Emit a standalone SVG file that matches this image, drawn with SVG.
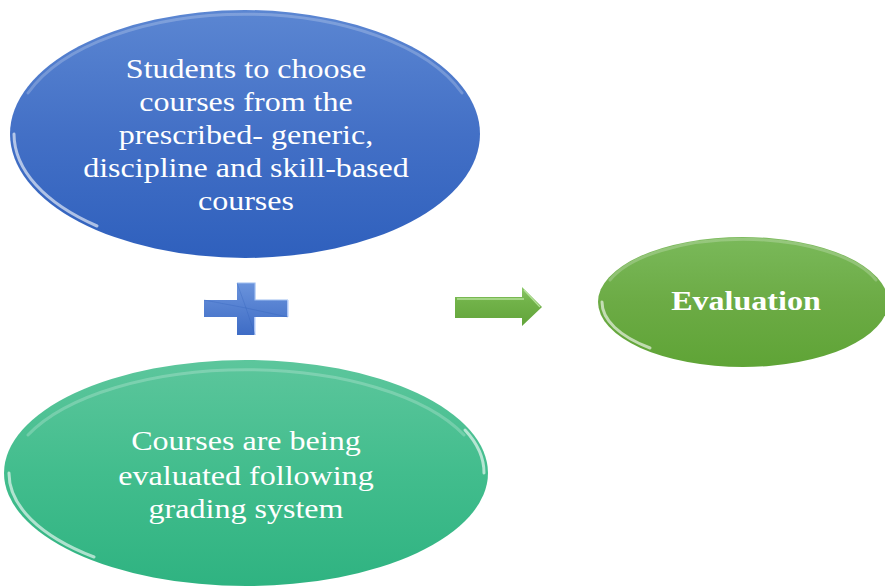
<svg xmlns="http://www.w3.org/2000/svg" width="885" height="588" viewBox="0 0 885 588">
  <defs>
    <linearGradient id="gBlue" x1="0" y1="0" x2="0" y2="1">
      <stop offset="0" stop-color="#5b86d2"/>
      <stop offset="0.5" stop-color="#4370c6"/>
      <stop offset="1" stop-color="#2f60bd"/>
    </linearGradient>
    <linearGradient id="gTeal" x1="0" y1="0" x2="0" y2="1">
      <stop offset="0" stop-color="#5cc69c"/>
      <stop offset="0.5" stop-color="#42bd8d"/>
      <stop offset="1" stop-color="#2fb381"/>
    </linearGradient>
    <linearGradient id="gGreen" x1="0" y1="0" x2="0" y2="1">
      <stop offset="0" stop-color="#7ab95a"/>
      <stop offset="0.5" stop-color="#6cab45"/>
      <stop offset="1" stop-color="#5fa436"/>
    </linearGradient>
    <linearGradient id="gArrow" x1="0" y1="0" x2="0" y2="1">
      <stop offset="0" stop-color="#8cc96a"/>
      <stop offset="0.35" stop-color="#72b34a"/>
      <stop offset="1" stop-color="#62a43a"/>
    </linearGradient>
    <linearGradient id="gPlus" x1="0" y1="0" x2="0" y2="1">
      <stop offset="0" stop-color="#6a93dc"/>
      <stop offset="1" stop-color="#3e6cc5"/>
    </linearGradient>
  </defs>
  <style>
    .lbl { font-family: "Liberation Serif", "Times New Roman", serif; font-size: 28px; fill: #ffffff; text-anchor: middle; }
    .bold { font-weight: bold; }
    .rim { fill: none; stroke: #ffffff; stroke-opacity: 0.6; stroke-width: 3; stroke-linecap: round; }
    .top { fill: none; stroke: #ffffff; stroke-opacity: 0.22; stroke-width: 3; stroke-linecap: round; }
  </style>

  <g id="node-choose">
    <ellipse cx="245" cy="134" rx="235" ry="124" fill="url(#gBlue)"/>
    <path class="top" d="M 28 93 A 231 120 0 0 1 462 93"/>
    <path class="rim" d="M 14 134 A 231 120 0 0 0 97 226"/>
    <g transform="translate(246 0) scale(1.145 1) translate(-246 0)">
      <text class="lbl" x="246" y="78">Students to choose</text>
      <text class="lbl" x="246" y="111">courses from the</text>
      <text class="lbl" x="246" y="144">prescribed- generic,</text>
      <text class="lbl" x="246" y="177">discipline and skill-based</text>
      <text class="lbl" x="246" y="210">courses</text>
    </g>
  </g>

  <g id="node-graded">
    <ellipse cx="246" cy="473" rx="242" ry="113" fill="url(#gTeal)"/>
    <path class="top" d="M 28 435 A 238 109 0 0 1 464 435"/>
    <path class="rim" d="M 9 473 A 238 109 0 0 0 94 557"/>
    <path class="rim" stroke-opacity="0.35" d="M 465 430 A 238 109 0 0 1 484 473"/>
    <g transform="translate(246 0) scale(1.145 1) translate(-246 0)">
      <text class="lbl" x="246" y="450">Courses are being</text>
      <text class="lbl" x="246" y="485">evaluated following</text>
      <text class="lbl" x="246" y="518">grading system</text>
    </g>
  </g>

  <g id="node-evaluation">
    <ellipse cx="743" cy="302" rx="145" ry="65" fill="url(#gGreen)"/>
    <path class="top" d="M 610 280 A 141 61 0 0 1 876 280"/>
    <path class="rim" d="M 602 302 A 141 61 0 0 0 650 348"/>
    <g transform="translate(746 0) scale(1.145 1) translate(-746 0)">
      <text class="lbl bold" x="746" y="310">Evaluation</text>
    </g>
  </g>

  <g id="connectors">
    <g id="plus">
      <path d="M 237 283 H 255 V 300 H 288 V 317 H 255 V 335 H 237 V 317 H 204 V 300 H 237 Z" fill="url(#gPlus)"/>
      <path d="M 237 283 H 255 V 300 H 288" fill="none" stroke="#9dbdf0" stroke-width="1.2"/>
      <path d="M 288 300 V 317 M 255 317 V 335" fill="none" stroke="#c9dcff" stroke-width="1.5"/>
      <path d="M 204 300 L 246 308 L 288 317 M 237 283 L 246 308 L 255 335" fill="none" stroke="#2f5eb8" stroke-width="0.6" stroke-opacity="0.5"/>
    </g>
    <g id="arrow">
      <path d="M 455 297 H 522 V 287 L 542 307 L 522 326 V 318 H 455 Z" fill="url(#gArrow)"/>
      <path d="M 457 299 H 524" fill="none" stroke="#b6e29a" stroke-width="1.5"/>
      <path d="M 524 290 L 540 307" fill="none" stroke="#b6e29a" stroke-width="1.2"/>
    </g>
  </g>
</svg>
